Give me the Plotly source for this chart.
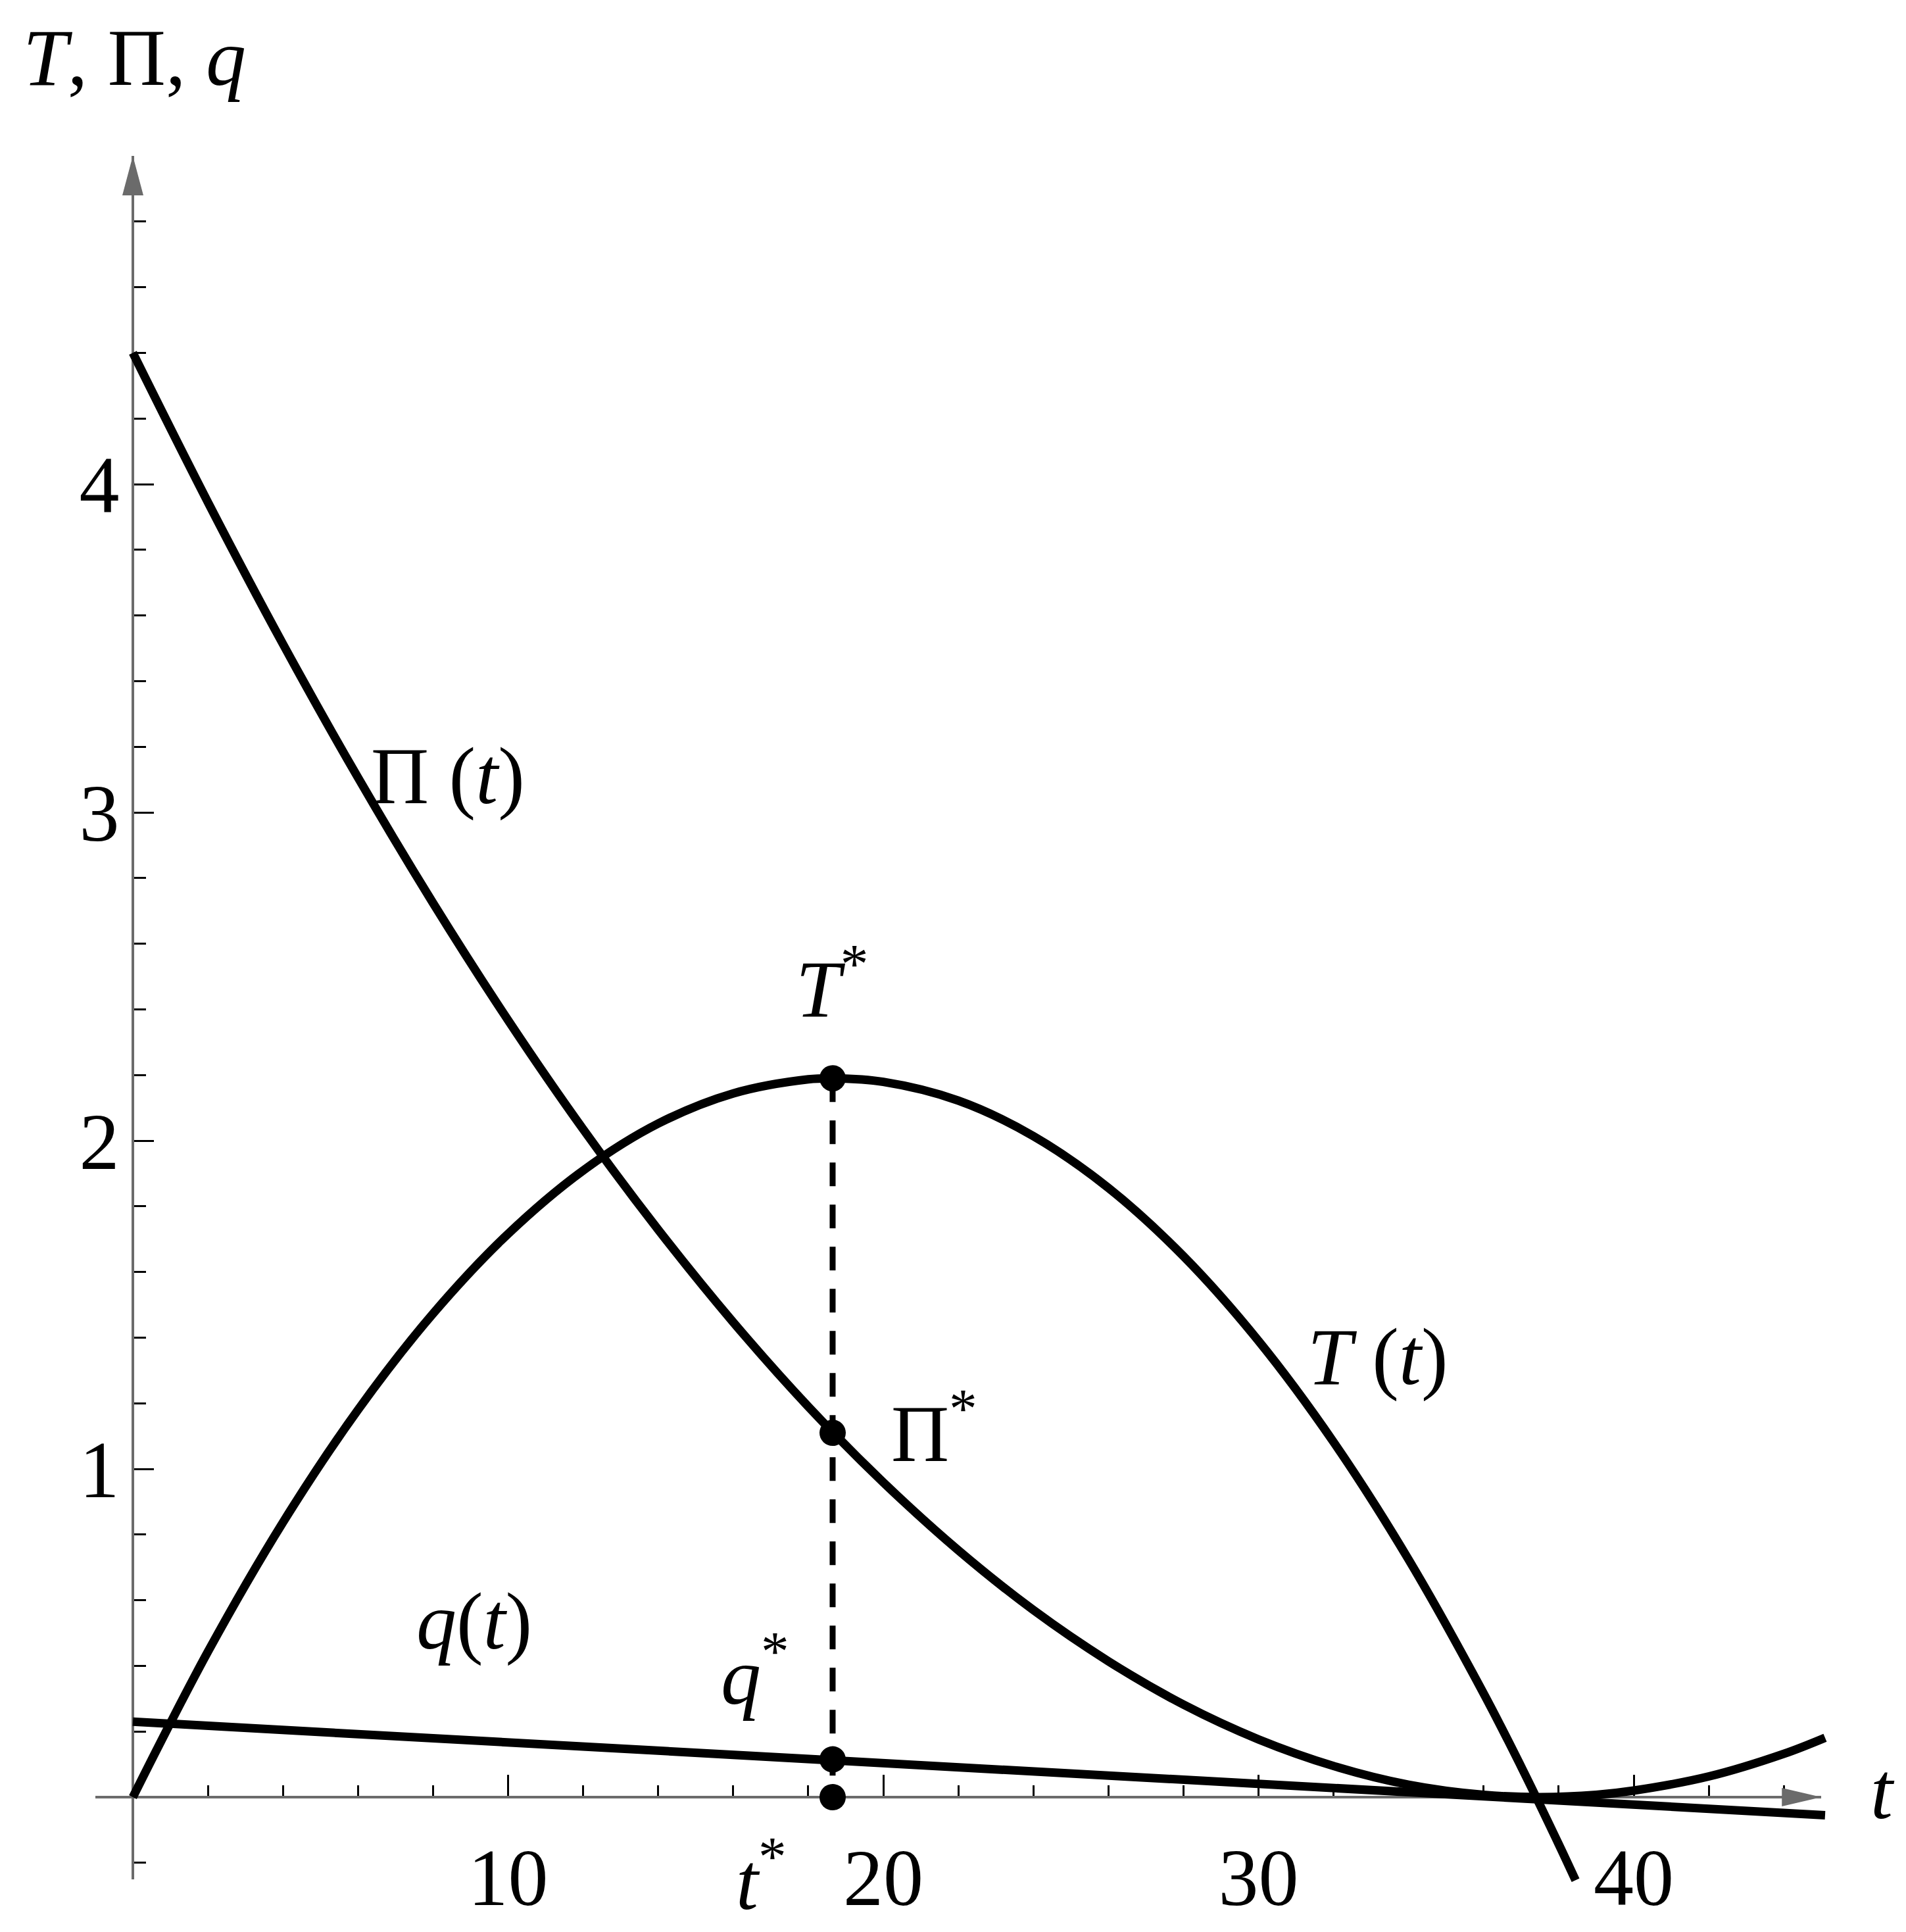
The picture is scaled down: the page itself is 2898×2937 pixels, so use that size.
import plotly.graph_objects as go

# values
t_pi = [0, 2, 4, 6, 8, 10, 12, 14, 16, 18, 20, 22, 24, 26, 28, 30, 32, 34, 36, 37.5, 39, 40, 42, 44, 45.1]
pi_vals = [4.400, 3.945, 3.513, 3.106, 2.724, 2.367, 2.035, 1.729, 1.447, 1.190, 0.959, 0.752, 0.570,
           0.414, 0.282, 0.176, 0.095, 0.038, 0.007, 0.000, 0.007, 0.020, 0.063, 0.132, 0.181]

t_T = [0, 2, 4, 6, 8, 10, 12, 14, 16, 18, 18.65, 20, 22, 24, 26, 28, 30, 32, 34, 36, 37, 38, 38.45]
T_vals = [0.000, 0.443, 0.837, 1.180, 1.473, 1.716, 1.909, 2.052, 2.144, 2.187, 2.190, 2.179, 2.122,
          2.014, 1.856, 1.648, 1.390, 1.082, 0.724, 0.316, 0.093, -0.143, -0.253]

t_q = [0, 5, 10, 15, 20, 25, 30, 35, 40, 45.1]
q_vals = [0.230, 0.198, 0.167, 0.135, 0.103, 0.072, 0.040, 0.008, -0.023, -0.055]

t_star = 18.65
T_star = 2.19
Pi_star = 1.11
q_star = 0.115

x_ticks = [10, 20, 30, 40]
x_minor = [2, 4, 6, 8, 12, 14, 16, 18, 22, 24, 26, 28, 32, 34, 36, 38, 42, 44]
y_ticks = [1, 2, 3, 4]
y_minor = [-0.2, 0.2, 0.4, 0.6, 0.8, 1.2, 1.4, 1.6, 1.8, 2.2, 2.4, 2.6, 2.8,
           3.2, 3.4, 3.6, 3.8, 4.2, 4.4, 4.6, 4.8]

# page geometry (pixels)
W, H = 2898, 2937
X0, XS = 202, 57.05     # pixel of t=0, pixels per unit t
Y0, YS = 2732, 499      # pixel of value 0, pixels per unit
xmin, xmax = -1, 45
ymin, ymax = -0.25, 5.0

FONT = "Liberation Serif"
FS = 122
GREY = "#6b6b6b"
LW = 13

fig = go.Figure()

fig.add_trace(go.Scatter(x=t_pi, y=pi_vals, mode="lines", line=dict(color="black", width=LW, shape="spline"),
                         xaxis="x2", yaxis="y2"))
fig.add_trace(go.Scatter(x=t_T, y=T_vals, mode="lines", line=dict(color="black", width=LW, shape="spline"),
                         xaxis="x2", yaxis="y2"))
fig.add_trace(go.Scatter(x=t_q, y=q_vals, mode="lines", line=dict(color="black", width=LW),
                         xaxis="x2", yaxis="y2"))
fig.add_trace(go.Scatter(x=[t_star, t_star], y=[T_star, 0], mode="lines",
                         line=dict(color="black", width=9, dash="36px,28px"),
                         xaxis="x2", yaxis="y2"))
fig.add_trace(go.Scatter(x=[t_star] * 4, y=[T_star, Pi_star, q_star, 0], mode="markers",
                         marker=dict(color="black", size=40), xaxis="x2", yaxis="y2"))

# labels
labels = [
    ("<i>T</i>, Π, <i>q</i>", 0.05, 5.30),
    ("<i>t</i>", 46.63, 0.02),
    ("Π (<i>t</i>)", 8.39, 3.11),
    ("<i>T</i> (<i>t</i>)", 33.19, 1.34),
    ("<i>q</i>(<i>t</i>)", 9.09, 0.535),
    ("<i>T</i><sup>*</sup>", 18.65, 2.48),
    ("Π<sup>*</sup>", 21.36, 1.125),
    ("<i>q</i><sup>*</sup>", 16.58, 0.385),
    ("<i>t</i><sup>*</sup>", 16.75, -0.24),
]
for txt, lx, ly in labels:
    fig.add_annotation(x=lx, y=ly, xref="x2", yref="y2", text=txt, showarrow=False,
                       font=dict(family=FONT, size=FS, color="black"))

# arrow heads on the axes
fig.add_shape(type="path", xref="x2", yref="y2", xsizemode="pixel", ysizemode="pixel",
              xanchor=xmax, yanchor=0, path="M -60,-14 L 0,0 L -60,14 Z",
              fillcolor=GREY, line=dict(width=0))
fig.add_shape(type="path", xref="x2", yref="y2", xsizemode="pixel", ysizemode="pixel",
              xanchor=0, yanchor=ymax, path="M -16,-60 L 0,0 L 16,-60 Z",
              fillcolor=GREY, line=dict(width=0))

fig.update_layout(
    width=W, height=H,
    margin=dict(l=0, r=0, t=0, b=0),
    paper_bgcolor="white", plot_bgcolor="rgba(0,0,0,0)",
    showlegend=False,
    xaxis=dict(domain=[(X0 + XS * xmin) / W, (X0 + XS * xmax) / W], range=[xmin, xmax],
               anchor="free", position=(H - Y0) / H, showgrid=False, zeroline=False,
               showline=True, linecolor=GREY, linewidth=4,
               ticks="inside", tickvals=x_ticks, ticktext=[str(v) for v in x_ticks],
               ticklen=32, tickwidth=3, tickcolor="black", ticklabelstandoff=16,
               tickfont=dict(family=FONT, size=FS, color="black"),
               minor=dict(tickvals=x_minor, ticks="inside", ticklen=16, tickwidth=3, tickcolor="black")),
    yaxis=dict(domain=[(H - (Y0 - YS * ymin)) / H, (H - (Y0 - YS * ymax)) / H], range=[ymin, ymax],
               anchor="free", position=X0 / W, showgrid=False, zeroline=False,
               showline=True, linecolor=GREY, linewidth=4,
               ticks="inside", tickvals=y_ticks, ticktext=[str(v) for v in y_ticks],
               ticklen=30, tickwidth=3, tickcolor="black", ticklabelstandoff=-6,
               tickfont=dict(family=FONT, size=FS, color="black"),
               minor=dict(tickvals=y_minor, ticks="inside", ticklen=18, tickwidth=3, tickcolor="black")),
    xaxis2=dict(domain=[0, 1], range=[-X0 / XS, (W - X0) / XS], anchor="y2", visible=False),
    yaxis2=dict(domain=[0, 1], range=[(Y0 - H) / YS, Y0 / YS], anchor="x2", visible=False),
)

# empty trace so the axis subplot exists
fig.add_trace(go.Scatter(x=[None], y=[None], xaxis="x", yaxis="y", showlegend=False))

fig.write_html("out.html", config={"displayModeBar": False},
               post_script="document.body.style.margin='0';")
